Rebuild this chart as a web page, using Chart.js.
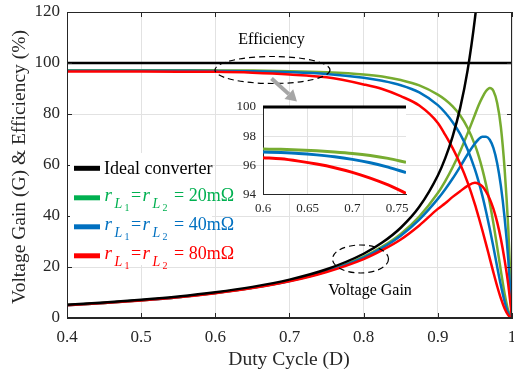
<!DOCTYPE html>
<html><head><meta charset="utf-8">
<script src="https://cdn.jsdelivr.net/npm/chart.js@4/dist/chart.umd.min.js"></script>
<style>
html,body{margin:0;padding:0;background:#fff;}
#wrap{position:relative;width:514px;height:374px;overflow:hidden;}
#main{position:absolute;left:0;top:0;width:514px;height:374px;}
#inset{position:absolute;left:225px;top:95px;width:190px;height:125px;}
</style></head><body>
<div id="wrap">
<canvas id="main" width="514" height="374"></canvas>
<canvas id="inset" width="190" height="125"></canvas>
</div>
<script>
// ---------- data ----------
const duty = [0.40,0.45,0.50,0.55,0.60,0.65,0.70,0.75,0.80,0.825,0.85,0.875,0.90,0.91,0.92,0.93,0.94,0.95,0.955,0.96,0.965,0.97,0.975,0.98,0.985,0.99,0.995,1.00];
const gainIdeal = [5.2,6.07,7.15,8.42,10.07,12.2,15.06,19.11,25.2,29.57,35.4,43.6,55.9,62.7,71.25,82.2,96.9,117.4,131.1,148.2];
const gain20 = [5.05,5.9,6.95,8.18,9.78,11.83,14.57,18.4,24.07,28.0,33.0,39.8,49.0,53.7,59.1,65.3,72.3,79.7,83.4,86.5,89.0,90.2,89.0,84.3,74.9,58.6,34.9,0];
const gain40 = [5.04,5.89,6.93,8.16,9.76,11.81,14.53,18.29,23.7,27.5,32.3,38.6,46.7,50.5,54.7,59.3,64.1,68.4,70.1,71.1,71.1,69.9,66.6,60.7,51.8,39.4,22.9,0];
const gain80 = [5.03,5.87,6.9,8.13,9.72,11.74,14.38,18.04,23.1,26.6,30.8,36.3,42.8,45.0,47.5,49.7,51.8,53.0,52.6,51.6,49.6,46.7,42.8,37.6,31.0,22.8,13.0,0];
const eff20 = [97.2,97.2,97.18,97.15,97.11,97.02,96.81,96.35,95.5,94.7,93.3,91.2,87.6,85.6,83.0,79.5,74.6,67.9,63.6,58.4,52.3,45.2,37.0,27.9,18.5,9.6,2.85,0];
const eff40 = [97.0,97.0,96.98,96.95,96.91,96.77,96.40,95.70,94.2,93.0,91.3,88.5,83.5,80.5,76.8,72.2,66.2,58.3,53.5,48.0,41.8,35.0,27.7,20.1,12.8,6.45,1.87,0];
const eff80 = [96.7,96.68,96.65,96.6,96.52,96.18,95.51,94.37,91.6,89.8,87.0,83.3,76.5,71.8,66.6,60.5,53.3,44.6,39.6,34.4,29.0,23.4,17.8,12.45,7.66,3.74,1.06,0];
const idealEffDuty = [0.4,1.0];
const idealEff = [100,100];

const insetDuty = [0.60,0.62,0.64,0.66,0.68,0.70,0.72,0.74,0.76];
const insetEff20 = [97.11,97.09,97.05,96.99,96.91,96.81,96.67,96.47,96.20];
const insetEff40 = [96.91,96.87,96.81,96.71,96.58,96.40,96.17,95.87,95.49];
const insetEff80 = [96.52,96.44,96.28,96.08,95.83,95.51,95.11,94.64,94.07];
const insetIdealDuty = [0.6,0.76];
const insetIdeal = [100,100];

const xTicks = [0.4,0.5,0.6,0.7,0.8,0.9,1.0];
const xTickLabels = ['0.4','0.5','0.6','0.7','0.8','0.9','1'];
const yTicks = [0,20,40,60,80,100,120];
const yTickLabels = ['0','20','40','60','80','100','120'];
const insetXTicks = [0.6,0.65,0.7,0.75];
const insetXTickLabels = ['0.6','0.65','0.7','0.75'];
const insetYTicks = [94,96,98,100];
const insetYTickLabels = ['94','96','98','100'];

const xTitle = 'Duty Cycle (D)';
const yTitle = 'Voltage Gain (G) & Efficiency (%)';
const legendIdeal = 'Ideal converter';
const legendValues = ['20m\u03A9','40m\u03A9','80m\u03A9'];
const noteEff = 'Efficiency';
const noteGain = 'Voltage Gain';

// ---------- styles ----------
const SERIF = '"Liberation Serif","Times New Roman","DejaVu Serif",serif';
const C_GREEN = '#77AC30', C_BLUE = '#0072BD', C_RED = '#FF0000', C_BLACK = '#000000';
const L_GREEN = '#00B050', L_BLUE = '#0070C0', L_RED = '#FF0000';
const AXIS = '#262626', GRID = '#e2e2e2';

function pts(xs, ys){ return ys.map((v,i)=>({x:xs[i], y:v})); }
function ds(data, color, w, order, extra){
  return Object.assign({data, borderColor:color, backgroundColor:color, borderWidth:w,
    pointRadius:0, fill:false, cubicInterpolationMode:'monotone', order}, extra||{});
}
function line(ctx,x1,y1,x2,y2){ctx.beginPath();ctx.moveTo(x1,y1);ctx.lineTo(x2,y2);ctx.stroke();}
function noPad(s){ s.paddingLeft=0; s.paddingRight=0; s.paddingTop=0; s.paddingBottom=0; }

Chart.defaults.font.family = SERIF;
Chart.defaults.color = AXIS;

const mainDecor = {
  id:'mainDecor',
  afterDraw(chart){
    const {ctx, chartArea:a, scales:{x,y}} = chart;
    ctx.save();
    // box + inward ticks
    ctx.strokeStyle = AXIS; ctx.lineWidth = 1;
    ctx.strokeRect(a.left+0.5, a.top+0.5, a.right-a.left-1, a.bottom-a.top-1);
    xTicks.forEach(v=>{ const px=Math.round(x.getPixelForValue(v))+0.5;
      line(ctx,px,a.bottom,px,a.bottom-5); line(ctx,px,a.top,px,a.top+5); });
    yTicks.forEach(v=>{ const py=Math.round(y.getPixelForValue(v))+0.5;
      line(ctx,a.left,py,a.left+5,py); line(ctx,a.right,py,a.right-5,py); });
    // axis titles
    ctx.fillStyle = AXIS; ctx.font = '19.5px '+SERIF; ctx.textBaseline='alphabetic';
    ctx.textAlign='center';
    ctx.fillText(xTitle, 289, 365);
    ctx.save(); ctx.translate(24.5, 167); ctx.rotate(-Math.PI/2);
    ctx.fillText(yTitle, 0, 0); ctx.restore();
    // legend
    ctx.fillStyle='#fff'; ctx.fillRect(70,153,142,112);
    ctx.lineWidth = 5; ctx.strokeStyle = C_BLACK; line(ctx,74,168.3,100,168.3);
    ctx.textAlign='left'; ctx.fillStyle='#000'; ctx.font='18px '+SERIF;
    ctx.fillText(legendIdeal, 104, 173.5);
    const cols=[L_GREEN,L_BLUE,L_RED];
    cols.forEach((c,i)=>{
      const yc = 197.8 + 29*i, b = yc + 3.4;
      ctx.strokeStyle=c; ctx.lineWidth=5; line(ctx,74,yc,100,yc);
      ctx.fillStyle=c;
      ctx.font='italic 19px '+SERIF; ctx.fillText('r',104.5,b);
      ctx.font='italic 14px '+SERIF; ctx.fillText('L',114.5,b+7);
      ctx.font='10px '+SERIF; ctx.fillText('1',124.5,b+10);
      ctx.font='18px '+SERIF; ctx.fillText('=',131,b);
      ctx.font='italic 19px '+SERIF; ctx.fillText('r',142.5,b);
      ctx.font='italic 14px '+SERIF; ctx.fillText('L',152.5,b+7);
      ctx.font='10px '+SERIF; ctx.fillText('2',162.5,b+10);
      ctx.font='18px '+SERIF; ctx.fillText('= '+legendValues[i],174,b);
    });
    // annotations
    ctx.fillStyle='#000'; ctx.font='16px '+SERIF; ctx.textAlign='center';
    ctx.fillText(noteEff, 271.5, 43.5);
    ctx.fillText(noteGain, 370, 294.5);
    ctx.strokeStyle='#000'; ctx.lineWidth=1.2; ctx.setLineDash([6,4]);
    ctx.beginPath(); ctx.ellipse(272.5,70,57.5,13.5,0,0,Math.PI*2); ctx.stroke();
    ctx.beginPath(); ctx.ellipse(360.5,259,28,14,0,0,Math.PI*2); ctx.stroke();
    ctx.setLineDash([]);
    // gray arrow
    const x1=271.5,y1=78.5,x2=297,y2=101.5;
    const ang=Math.atan2(y2-y1,x2-x1), hl=11, hw=6.5;
    const bx=x2-hl*Math.cos(ang), by=y2-hl*Math.sin(ang);
    ctx.strokeStyle='#a6a6a6'; ctx.fillStyle='#a6a6a6'; ctx.lineWidth=4; ctx.lineCap='butt';
    line(ctx,x1,y1,bx,by);
    ctx.beginPath(); ctx.moveTo(x2,y2);
    ctx.lineTo(bx+hw*Math.sin(ang), by-hw*Math.cos(ang));
    ctx.lineTo(bx-hw*Math.sin(ang), by+hw*Math.cos(ang)); ctx.closePath(); ctx.fill();
    ctx.restore();
  }
};

new Chart(document.getElementById('main'), {
  type:'line',
  data:{datasets:[
    ds(pts(idealEffDuty, idealEff), C_BLACK, 2.6, 0),
    ds(pts(duty.slice(0,gainIdeal.length), gainIdeal), C_BLACK, 2.5, 0),
    ds(pts(duty, eff20), C_GREEN, 2.5, 3),
    ds(pts(duty, gain20), C_GREEN, 2.5, 3),
    ds(pts(duty, eff40), C_BLUE, 2.5, 2),
    ds(pts(duty, gain40), C_BLUE, 2.5, 2),
    ds(pts(duty, eff80), C_RED, 2.5, 1),
    ds(pts(duty, gain80), C_RED, 2.5, 1)
  ]},
  options:{
    responsive:false, animation:false, devicePixelRatio:1,
    layout:{padding:{top:12,right:2,left:0,bottom:0}},
    plugins:{legend:{display:false}, tooltip:{enabled:false}},
    scales:{
      x:{type:'linear', min:0.4, max:1,
        afterBuildTicks:s=>{s.ticks = xTicks.map(v=>({value:v}));},
        afterFit:s=>{s.height=56; noPad(s);},
        ticks:{callback:(v,i)=>xTickLabels[i], font:{size:17}, color:AXIS, padding:9, maxRotation:0, autoSkip:false},
        grid:{color:GRID, drawTicks:false}, border:{color:AXIS}},
      y:{type:'linear', min:0, max:120,
        afterBuildTicks:s=>{s.ticks = yTicks.map(v=>({value:v}));},
        afterFit:s=>{s.width=67; noPad(s);},
        ticks:{callback:(v,i)=>yTickLabels[i], font:{size:17}, color:AXIS, padding:7, autoSkip:false},
        grid:{color:GRID, drawTicks:false}, border:{color:AXIS}}
    }
  },
  plugins:[mainDecor]
});

const insetBg = {
  id:'insetBg',
  beforeDraw(chart){
    const {ctx, chartArea:a} = chart;
    ctx.save(); ctx.fillStyle='#fff'; ctx.fillRect(a.left,a.top,a.right-a.left,a.bottom-a.top); ctx.restore();
  }
};

new Chart(document.getElementById('inset'), {
  type:'line',
  data:{datasets:[
    ds(pts(insetIdealDuty, insetIdeal), C_BLACK, 3.2, 5, {clip:false}),
    ds(pts(insetDuty, insetEff20), C_GREEN, 3, 3),
    ds(pts(insetDuty, insetEff40), C_BLUE, 3, 2),
    ds(pts(insetDuty, insetEff80), C_RED, 3, 1)
  ]},
  options:{
    responsive:false, animation:false, devicePixelRatio:1,
    layout:{padding:{top:12,right:9,left:0,bottom:0}},
    plugins:{legend:{display:false}, tooltip:{enabled:false}},
    scales:{
      x:{type:'linear', min:0.6, max:0.76,
        afterBuildTicks:s=>{s.ticks = insetXTicks.map(v=>({value:v}));},
        afterFit:s=>{s.height=25.7; noPad(s);},
        ticks:{callback:(v,i)=>insetXTickLabels[i], font:{size:13}, color:AXIS, padding:6, maxRotation:0, autoSkip:false},
        grid:{color:GRID, drawTicks:false}, border:{color:AXIS}},
      y:{type:'linear', min:94, max:100,
        afterBuildTicks:s=>{s.ticks = insetYTicks.map(v=>({value:v}));},
        afterFit:s=>{s.width=38; noPad(s);},
        ticks:{callback:(v,i)=>insetYTickLabels[i], font:{size:13}, color:AXIS, padding:7, autoSkip:false},
        grid:{color:GRID, drawTicks:false}, border:{color:AXIS}}
    }
  },
  plugins:[insetBg]
});
</script>
</body></html>
